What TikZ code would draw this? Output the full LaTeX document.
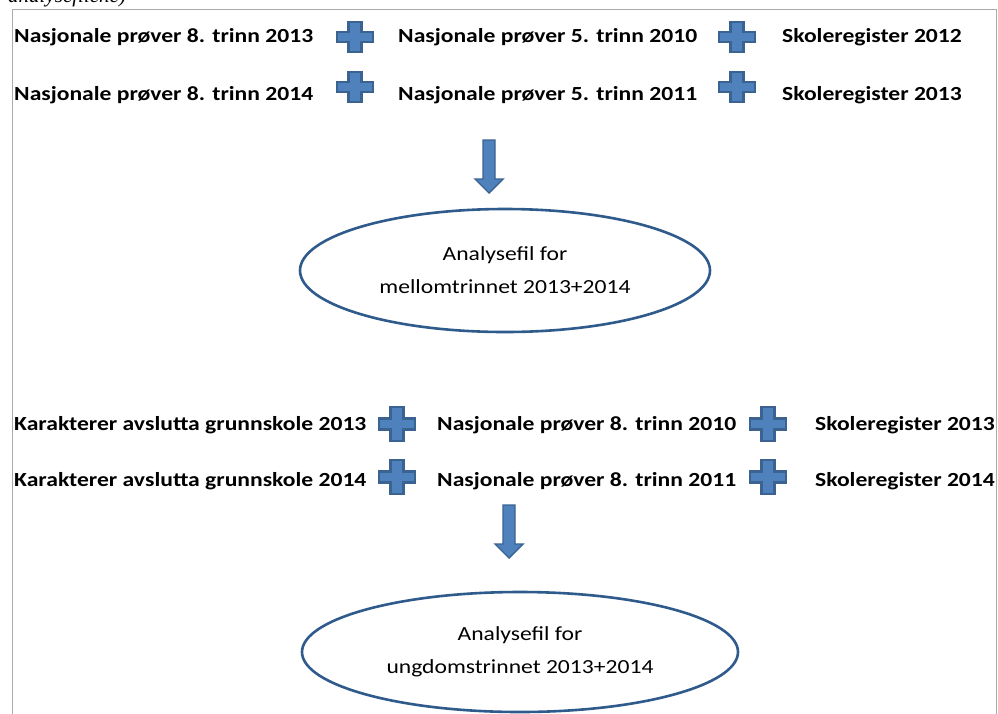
\documentclass[tikz,border=0pt]{standalone}
\usepackage{fontspec}
\setmainfont{Carlito}[FakeStretch=1.18]
\newfontfamily\timesfont{Liberation Serif}
\usetikzlibrary{shapes.geometric}
\definecolor{plusfill}{HTML}{4F81BD}
\definecolor{plusedge}{HTML}{3A6391}
\definecolor{ellline}{HTML}{2F5A8C}
\definecolor{framegray}{HTML}{ABABAB}
\begin{document}
\begin{tikzpicture}[x=1pt,y=-1pt,
  lbl/.style={anchor=base west,inner sep=0pt,font=\fontsize{20}{24}\selectfont\bfseries},
  ellnode/.style={ellipse,draw=ellline,line width=2.6pt,inner sep=0pt,align=center,
    font=\fontsize{20}{33}\selectfont},
  plusshape/.pic={\draw[plusedge,fill=plusfill,line width=2.2pt,line join=miter]
    (-6.5,-17) -- (6.5,-17) -- (6.5,-5.5) -- (18,-5.5) -- (18,5.5) -- (6.5,5.5) --
    (6.5,17) -- (-6.5,17) -- (-6.5,5.5) -- (-18,5.5) -- (-18,-5.5) -- (-6.5,-5.5) -- cycle;},
  downarrow/.pic={\draw[plusedge,fill=plusfill,line width=1.4pt,line join=miter]
    (-6,0) -- (6,0) -- (6,39) -- (14,39) -- (0,53) -- (-14,39) -- (-6,39) -- cycle;}
]
\useasboundingbox (0,0) rectangle (998,713);
\fill[white] (0,0) rectangle (998,713);
% frame
\draw[framegray,line width=1.6pt] (12.5,730) -- (12.5,9.5) -- (996.5,9.5) -- (996.5,730);
% cut-off caption text at top (only its lower part shows in the reference)
\node[anchor=base west,inner sep=0pt,font=\timesfont\itshape\fontsize{21}{24}\selectfont] (cap) at (8,2) {analysefilene)};
% block 1
\node[lbl] (t11) at (14,42) {Nasjonale prøver 8. trinn 2013};
\node[lbl] (t12) at (398,42) {Nasjonale prøver 5. trinn 2010};
\node[lbl] (t13) at (782,42) {Skoleregister 2012};
\node[lbl] (t21) at (14,100) {Nasjonale prøver 8. trinn 2014};
\node[lbl] (t22) at (398,100) {Nasjonale prøver 5. trinn 2011};
\node[lbl] (t23) at (782,100) {Skoleregister 2013};
\pic[yscale=0.9] at (355,37) {plusshape};
\pic[yscale=0.9] at (737,37) {plusshape};
\pic[yscale=0.9] at (355,87) {plusshape};
\pic[yscale=0.9] at (737,87) {plusshape};
\coordinate (a1) at (489,140);
\pic at (a1) {downarrow};
\node[ellnode,minimum width=410pt,minimum height=123pt] (e1) at (505,270.5)
  {Analysefil for\\mellomtrinnet 2013+2014};
% block 2
\node[lbl] (t31) at (14,430) {Karakterer avslutta grunnskole 2013};
\node[lbl] (t32) at (437,430) {Nasjonale prøver 8. trinn 2010};
\node[lbl] (t33) at (815,430) {Skoleregister 2013};
\node[lbl] (t41) at (14,486) {Karakterer avslutta grunnskole 2014};
\node[lbl] (t42) at (437,486) {Nasjonale prøver 8. trinn 2011};
\node[lbl] (t43) at (815,486) {Skoleregister 2014};
\pic at (397,424) {plusshape};
\pic at (768,424) {plusshape};
\pic at (397,477) {plusshape};
\pic at (768,477) {plusshape};
\coordinate (a2) at (509,505);
\pic at (a2) {downarrow};
\node[ellnode,minimum width=436pt,minimum height=120pt] (e2) at (520,652)
  {Analysefil for\\ungdomstrinnet 2013+2014};
\end{tikzpicture}
\end{document}
